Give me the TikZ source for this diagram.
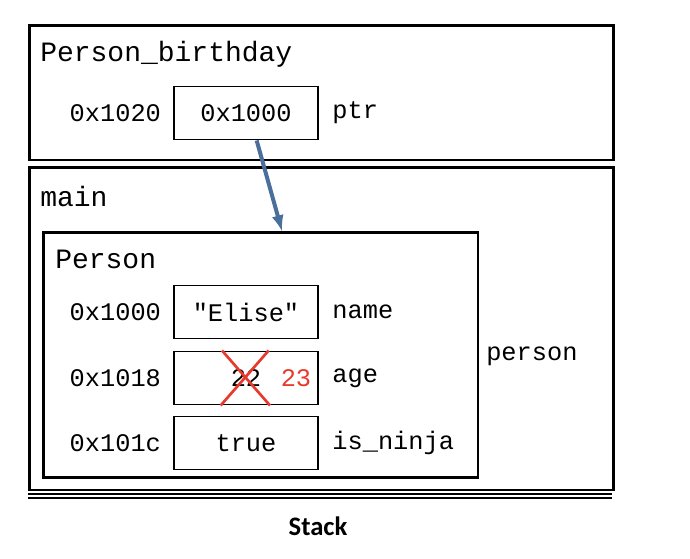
\documentclass[tikz,border=0pt]{standalone}
\usepackage{fontspec}
\setmonofont{Liberation Mono}
\newfontfamily\stackfont{Carlito}
\usetikzlibrary{positioning}
\definecolor{ptrblue}{RGB}{74,111,154}
\definecolor{crossred}{RGB}{232,57,42}

\begin{document}
\begin{tikzpicture}[x=0.75pt,y=-0.75pt,
			every node/.style={font=\ttfamily\fontsize{19}{22}\selectfont,inner sep=0pt},
			frame/.style={rectangle,draw=black,line width=2pt,anchor=north west},
			cell/.style={rectangle,draw=black,line width=1.2pt,minimum width=108pt,minimum height=40pt},
			addr/.style={anchor=east},
			lbl/.style={anchor=west}
		]
		\useasboundingbox (0,0) rectangle (690,558);
		% stack frames
		\node[frame,minimum width=438pt,minimum height=101pt](bday) at (28,24) {};
		\node[anchor=west,font=\ttfamily\fontsize{21}{24}\selectfont](bdaytitle) at (40,54) {Person\_birthday};
		\node[frame,minimum width=438pt,minimum height=242pt](main) at (28,166) {};
		\node[anchor=west,font=\ttfamily\fontsize{21}{24}\selectfont](maintitle) at (40,196) {main};
		\node[frame,minimum width=326pt,minimum height=184pt](pbox) at (42,231) {};
		\node[anchor=west,font=\ttfamily\fontsize{21}{24}\selectfont](ptitle) at (55,259) {Person};
		% cells
		\node[cell](ptr) at (246,113) {0x1000};
		\node[addr](aptr)[left=9pt of ptr] {0x1020};
		\node[lbl](lptr)[right=10pt of ptr] {ptr};
		\node[cell](name) at (246,312) {"Elise"};
		\node[addr](aname)[left=9pt of name] {0x1000};
		\node[lbl](lname)[right=10pt of name] {name};
		\node[cell](age) at (246,378) {};
		\node[addr](aage)[left=9pt of age] {0x1018};
		\node[lbl](lage)[right=10pt of age] {age};
		\node[cell](ninja) at (246,443) {true};
		\node[addr](aninja)[left=9pt of ninja] {0x101c};
		\node[lbl](lninja)[right=10pt of ninja] {is\_ninja};
		\node[anchor=west](person) at (486,356) {person};
		% changed age
		\node(old) at (246,378) {22};
		\node[text=crossred](new) at (296,378) {23};
		\draw[crossred,line width=2pt] ([xshift=-18pt]age.north) -- ([xshift=18pt]age.south)
			([xshift=17pt]age.north) -- ([xshift=-19pt]age.south);
		% pointer
		\draw[ptrblue,line width=3pt,-latex] ([xshift=8pt]ptr.south) -- ([xshift=16pt]pbox.north);
		% stack bottom
		\draw[line width=1.5pt] (28,494) -- (612,494) (28,498) -- (612,498);
		\node[font=\stackfont\bfseries\fontsize{20}{24}\selectfont](stack) at (318,526) {Stack};
	\end{tikzpicture}
\end{document}
